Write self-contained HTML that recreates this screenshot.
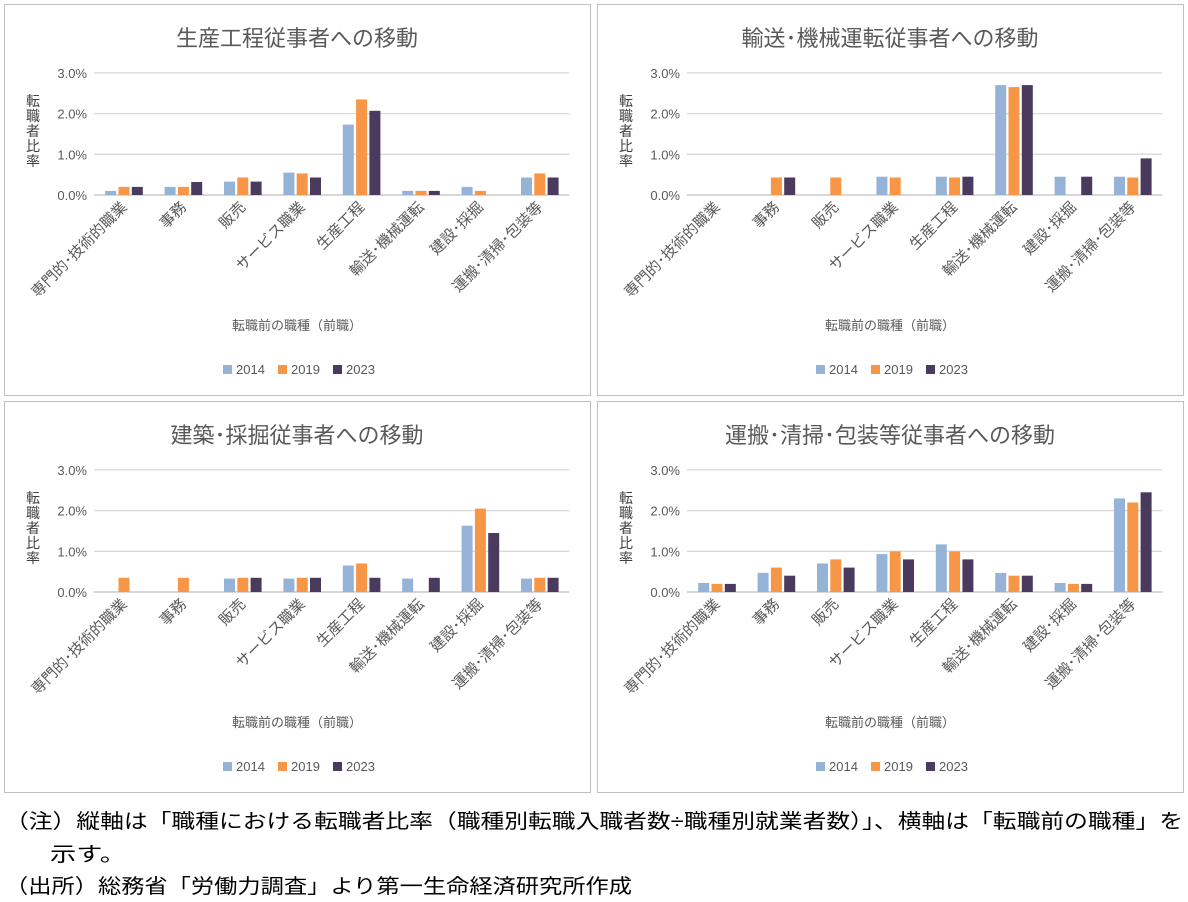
<!DOCTYPE html>
<html><head><meta charset="utf-8">
<style>
body{margin:0;background:#fff;width:1188px;height:902px;overflow:hidden}
svg{display:block;font-family:"Liberation Sans","Noto Sans CJK JP",sans-serif}
</style></head><body>
<svg id="s" width="1188" height="902" xmlns="http://www.w3.org/2000/svg">
<text x="5" y="828" font-size="20" fill="#000" textLength="1178" lengthAdjust="spacingAndGlyphs">（注）縦軸は「職種における転職者比率（職種別転職入職者数÷職種別就業者数）」、横軸は「転職前の職種」を</text>
<text x="50" y="861" font-size="20" fill="#000" textLength="76" lengthAdjust="spacingAndGlyphs">示す。</text>
<text x="5" y="893" font-size="20" fill="#000" textLength="627" lengthAdjust="spacingAndGlyphs">（出所）総務省「労働力調査」より第一生命経済研究所作成</text>
</svg>
<script>
var s=document.getElementById('s'),h='';
var cats=["専門的･技術的職業","事務","販売","サービス職業","生産工程","輸送･機械運転","建設･採掘","運搬･清掃･包装等"];
var cols=["#95b3d7","#f79646","#4a3a5e"];
var P=[
{x:4,y:4,t:"生産工程従事者への移動",d:[[.1,.2,.2],[.2,.2,.32],[.33,.43,.33],[.55,.53,.43],[1.73,2.35,2.07],[.1,.1,.1],[.2,.1,0],[.43,.53,.43]]},
{x:597,y:4,t:"輸送･機械運転従事者への移動",d:[[0,0,0],[0,.43,.43],[0,.43,0],[.45,.43,0],[.45,.43,.45],[2.7,2.65,2.7],[.45,0,.45],[.45,.43,.9]]},
{x:4,y:401,t:"建築･採掘従事者への移動",d:[[0,.35,0],[0,.35,0],[.33,.35,.35],[.33,.35,.35],[.65,.7,.35],[.33,0,.35],[1.63,2.05,1.45],[.33,.35,.35]]},
{x:597,y:401,t:"運搬･清掃･包装等従事者への移動",d:[[.22,.2,.2],[.47,.6,.4],[.7,.8,.6],[.93,1.0,.8],[1.17,1.0,.8],[.47,.4,.4],[.22,.2,.2],[2.3,2.2,2.45]]}
];
P.forEach(function(p){
 var ox=p.x,oy=p.y;
 h+='<rect x="'+(ox+.5)+'" y="'+(oy+.5)+'" width="586" height="391" fill="#fff" stroke="#bfbfbf"/>';
 h+='<text x="'+(ox+293)+'" y="'+(oy+42)+'" font-size="22" fill="#595959" text-anchor="middle">'+p.t+'</text>';
 var L=ox+90,B=oy+191,cw=59.4,u=40.7;
 for(var i=0;i<=3;i++){var y=B-i*u;
  h+='<line x1="'+L+'" x2="'+(L+cw*8)+'" y1="'+y+'" y2="'+y+'" stroke="'+(i?'#d9d9d9':'#bfbfbf')+'" stroke-width="1.3"/>';
  h+='<text x="'+(L-7)+'" y="'+(y+5)+'" font-size="13" fill="#595959" text-anchor="end">'+i+'.0%</text>';}
 var yl="転職者比率";
 for(var k=0;k<5;k++)h+='<text x="'+(ox+29)+'" y="'+(oy+102+k*15)+'" font-size="14" fill="#404040" text-anchor="middle">'+yl[k]+'</text>';
 p.d.forEach(function(v,c){
  var cx=L+cw*c+cw/2;
  v.forEach(function(val,j){ if(val<=0)return; var hh=val*u;
   h+='<rect x="'+(cx-18.5+j*13.3).toFixed(1)+'" y="'+(B-hh).toFixed(1)+'" width="11" height="'+hh.toFixed(1)+'" fill="'+cols[j]+'"/>';});
  h+='<text transform="translate('+(cx+4)+','+(B+13)+') rotate(-45)" font-size="15" fill="#595959" text-anchor="end">'+cats[c]+'</text>';
 });
 h+='<text x="'+(ox+293)+'" y="'+(oy+326)+'" font-size="13" fill="#595959" text-anchor="middle">転職前の職種（前職）</text>';
 ["2014","2019","2023"].forEach(function(y,j){var lx=ox+219+j*55;
  h+='<rect x="'+lx+'" y="'+(oy+361)+'" width="9" height="9" fill="'+cols[j]+'"/>';
  h+='<text x="'+(lx+13)+'" y="'+(oy+370)+'" font-size="13" fill="#595959">'+y+'</text>';});
});
s.insertAdjacentHTML('afterbegin',h);
</script>
</body></html>
